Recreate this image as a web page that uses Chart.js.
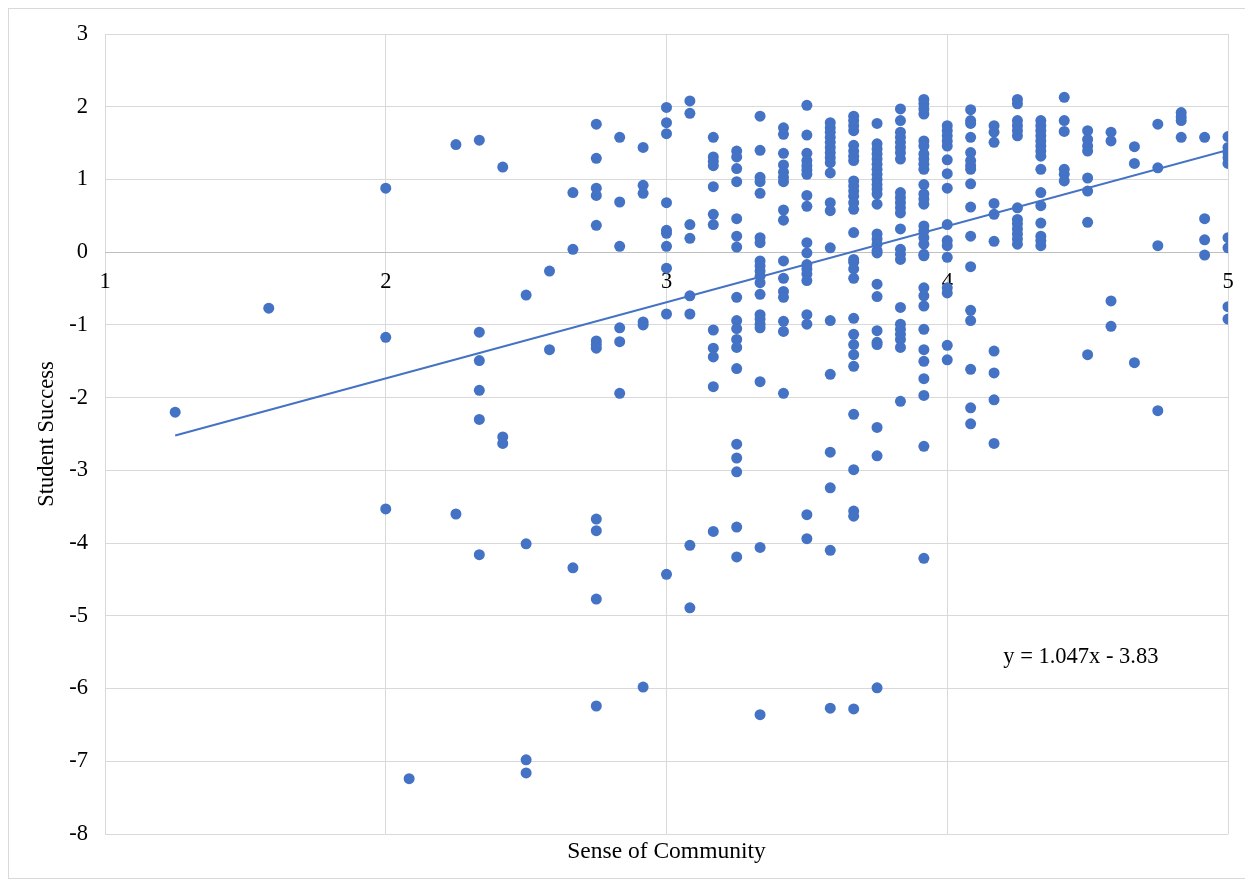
<!DOCTYPE html>
<html><head><meta charset="utf-8">
<script src="https://cdn.jsdelivr.net/npm/chart.js@4.4.1/dist/chart.umd.min.js"></script>
<style>
html,body{margin:0;padding:0;background:#fff;}
#wrap{position:relative;width:1245px;height:882px;overflow:hidden;background:#fff;}
#frame{position:absolute;left:8px;top:8px;width:1250px;height:869px;border:1px solid #d9d9d9;pointer-events:none;}
canvas{position:absolute;left:0;top:0;}
</style></head><body>
<div id="wrap"><canvas id="c" width="1245" height="882"></canvas><div id="frame"></div></div>
<script>
// Sense of Community levels (x) and the Student Success values (y) observed at each level
const xLevels = [1.25, 1.5833, 2, 2.0833, 2.25, 2.3333, 2.4167, 2.5, 2.5833, 2.6667, 2.75, 2.8333, 2.9167,
  3, 3.0833, 3.1667, 3.25, 3.3333, 3.4167, 3.5, 3.5833, 3.6667, 3.75, 3.8333, 3.9167,
  4, 4.0833, 4.1667, 4.25, 4.3333, 4.4167, 4.5, 4.5833, 4.6667, 4.75, 4.8333, 4.9167, 5];
const yByLevel = [
  [-2.20],
  [-0.77],
  [0.88, -1.17, -3.53],
  [-7.24],
  [1.48, -3.60],
  [1.54, -1.10, -1.49, -1.90, -2.30, -4.16],
  [1.17, -2.54, -2.63],
  [-0.59, -4.01, -6.98, -7.16],
  [-0.26, -1.34],
  [0.82, 0.04, -4.34],
  [1.76, 1.29, 0.88, 0.78, 0.37, -1.22, -1.27, -1.32, -3.67, -3.83, -4.77, -6.24],
  [1.58, 0.69, 0.08, -1.04, -1.23, -1.94],
  [1.44, 0.92, 0.81, -0.96, -1.00, -5.98],
  [1.99, 1.78, 1.63, 0.68, 0.30, 0.26, 0.08, -0.22, -0.85, -4.43],
  [2.08, 1.91, 0.38, 0.19, -0.60, -0.85, -4.03, -4.89],
  [1.58, 1.31, 1.25, 1.19, 0.90, 0.52, 0.38, -1.07, -1.32, -1.44, -1.85, -3.84],
  [1.39, 1.31, 1.15, 0.97, 0.46, 0.22, 0.07, -0.62, -0.94, -1.05, -1.20, -1.31, -1.60, -2.64, -2.83, -3.02, -3.78, -4.19],
  [1.87, 1.40, 1.03, 0.97, 0.81, 0.20, 0.13, -0.12, -0.19, -0.26, -0.33, -0.42, -0.58, -0.86, -0.92, -0.99, -1.04, -1.78, -4.06, -6.36],
  [1.71, 1.62, 1.36, 1.20, 1.10, 1.03, 0.97, 0.58, 0.44, -0.12, -0.36, -0.54, -0.62, -0.95, -1.09, -1.94],
  [2.02, 1.61, 1.36, 1.26, 1.19, 1.13, 1.07, 0.78, 0.63, 0.13, -0.01, -0.17, -0.23, -0.30, -0.39, -0.86, -0.99, -3.61, -3.94],
  [1.78, 1.71, 1.65, 1.58, 1.51, 1.44, 1.37, 1.30, 1.23, 1.09, 0.68, 0.57, 0.06, -0.94, -1.68, -2.75, -3.24, -4.10, -6.27],
  [1.87, 1.81, 1.74, 1.67, 1.47, 1.39, 1.32, 1.26, 0.98, 0.91, 0.84, 0.77, 0.68, 0.59, 0.27, -0.10, -0.14, -0.23, -0.36, -0.91, -1.13, -1.27, -1.41, -1.57, -2.23, -2.99, -3.56, -3.63, -6.28],
  [1.77, 1.49, 1.42, 1.35, 1.28, 1.21, 1.14, 1.07, 1.00, 0.93, 0.87, 0.80, 0.66, 0.25, 0.18, 0.11, 0.02, -0.01, -0.44, -0.61, -1.08, -1.24, -1.27, -2.41, -2.80, -5.99],
  [1.97, 1.81, 1.65, 1.58, 1.51, 1.44, 1.37, 1.28, 0.82, 0.75, 0.68, 0.61, 0.54, 0.32, 0.04, -0.03, -0.10, -0.76, -0.99, -1.06, -1.13, -1.20, -1.31, -2.05],
  [2.10, 2.04, 1.97, 1.90, 1.53, 1.46, 1.35, 1.28, 1.21, 1.14, 0.93, 0.80, 0.73, 0.66, 0.36, 0.29, 0.20, 0.11, -0.03, -0.05, -0.49, -0.60, -0.74, -1.06, -1.34, -1.50, -1.74, -1.97, -2.67, -4.21],
  [1.74, 1.67, 1.60, 1.53, 1.46, 1.27, 1.08, 0.88, 0.38, 0.16, 0.09, -0.07, -0.49, -0.56, -1.28, -1.48],
  [1.96, 1.81, 1.77, 1.58, 1.37, 1.26, 1.19, 1.14, 0.94, 0.62, 0.22, -0.20, -0.80, -0.94, -1.61, -2.14, -2.36],
  [1.74, 1.65, 1.51, 0.67, 0.52, 0.15, -1.36, -1.66, -2.03, -2.63],
  [2.10, 2.04, 1.81, 1.74, 1.67, 1.60, 0.61, 0.45, 0.39, 0.32, 0.25, 0.18, 0.11],
  [1.81, 1.74, 1.67, 1.60, 1.53, 1.46, 1.39, 1.32, 1.14, 0.82, 0.64, 0.40, 0.22, 0.16, 0.09],
  [2.13, 1.81, 1.66, 1.14, 1.07, 0.98],
  [1.67, 1.55, 1.46, 1.39, 1.02, 0.84, 0.41, -1.41],
  [1.65, 1.53, -0.67, -1.02],
  [1.45, 1.22, -1.52],
  [1.76, 1.16, 0.09, -2.18],
  [1.92, 1.86, 1.81, 1.58],
  [1.58, 0.46, 0.17, -0.04],
  [1.59, 1.44, 1.37, 1.30, 1.22, 0.20, 0.06, -0.75, -0.92]
];
const xRange = [1, 5];
const yRange = [-8, 3];
const trendSlope = 1.047;
const trendIntercept = -3.83;
const trendLabel = 'y = 1.047x - 3.83';
const trendLabelAt = [4.476, -5.57];
const xTitle = 'Sense of Community';
const yTitle = 'Student Success';

const points = [];
xLevels.forEach((x, i) => yByLevel[i].forEach(y => points.push({x, y})));
const xMin = Math.min(...xLevels), xMax = Math.max(...xLevels);
const trendPoints = [xMin, xMax].map(x => ({x, y: trendSlope * x + trendIntercept}));

const BLUE = '#4472C4';
const FONT = "'Liberation Serif', 'Times New Roman', serif";
const FS = 22.5;

const eqPlugin = {
  id: 'eqLabel',
  afterDatasetsDraw(chart) {
    const {ctx, scales} = chart;
    ctx.save();
    ctx.font = FS + 'px ' + FONT;
    ctx.fillStyle = '#000';
    ctx.textAlign = 'center';
    ctx.textBaseline = 'middle';
    ctx.fillText(trendLabel, scales.x.getPixelForValue(trendLabelAt[0]), scales.y.getPixelForValue(trendLabelAt[1]));
    ctx.restore();
  }
};

new Chart(document.getElementById('c'), {
  type: 'scatter',
  data: {
    datasets: [
      {type: 'line', data: trendPoints, borderColor: BLUE, borderWidth: 2, pointRadius: 0, fill: false, order: 0},
      {type: 'scatter', data: points, backgroundColor: BLUE, borderColor: BLUE, borderWidth: 0, pointRadius: 5.5, order: 1}
    ]
  },
  options: {
    responsive: false,
    animation: false,
    devicePixelRatio: 1,
    layout: {padding: {top: 34, right: 17, left: 0, bottom: 0}},
    plugins: {legend: {display: false}, tooltip: {enabled: false}},
    scales: {
      x: {
        type: 'linear', min: xRange[0], max: xRange[1],
        position: {y: 0},
        ticks: {stepSize: 1, color: '#000', font: {family: FONT, size: FS}, padding: 16, maxRotation: 0},
        grid: {color: '#d9d9d9', lineWidth: 1, drawTicks: false},
        border: {display: true, color: '#bfbfbf', width: 1},
        afterFit: s => { s.paddingRight = 0; s.paddingLeft = 0; }
      },
      x2: {
        type: 'linear', axis: 'x', min: xRange[0], max: xRange[1], position: 'bottom',
        ticks: {display: false},
        grid: {display: false, drawTicks: false},
        border: {display: false},
        title: {display: true, text: xTitle, color: '#000', font: {family: FONT, size: 23.5}, padding: {top: 0, bottom: 16}},
        afterFit: s => { s.height = 48; s.paddingRight = 0; s.paddingLeft = 0; }
      },
      y: {
        type: 'linear', min: yRange[0], max: yRange[1], position: 'left',
        ticks: {stepSize: 1, color: '#000', font: {family: FONT, size: FS}, padding: 17},
        grid: {color: '#d9d9d9', lineWidth: 1, drawTicks: false},
        border: {display: false},
        title: {display: true, text: yTitle, color: '#000', font: {family: FONT, size: FS}, padding: {top: 33.5, bottom: 0}},
        afterFit: s => { s.width = 105; }
      }
    }
  },
  plugins: [eqPlugin]
});
</script>
</body></html>
